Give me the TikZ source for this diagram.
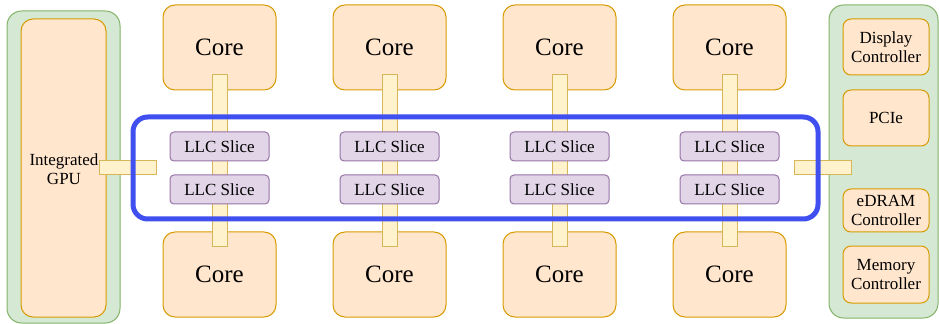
\documentclass[tikz,border=0pt]{standalone}
\usepackage{fontspec}
\setmainfont{Liberation Serif}
\usetikzlibrary{positioning}
\definecolor{orfill}{HTML}{FFE6CC}
\definecolor{ordraw}{HTML}{D79B00}
\definecolor{grfill}{HTML}{D5E8D4}
\definecolor{grdraw}{HTML}{82B366}
\definecolor{pufill}{HTML}{E1D5E7}
\definecolor{pudraw}{HTML}{9673A6}
\definecolor{yefill}{HTML}{FFF2CC}
\definecolor{yedraw}{HTML}{D6B656}
\definecolor{ringblue}{RGB}{64,80,240}

\begin{document}
\begin{tikzpicture}[x=0.75pt,y=-0.75pt,
  box/.style={draw=ordraw,fill=orfill,line width=0.75pt,inner sep=0pt},
  core/.style={box,rounded corners=9pt,minimum width=84.75pt,minimum height=63.75pt,font=\fontsize{18.75}{20}\selectfont},
  ctrl/.style={box,rounded corners=6pt,minimum width=64.5pt,align=center,font=\fontsize{12.75}{14.5}\selectfont},
  slice/.style={draw=pudraw,fill=pufill,line width=0.75pt,rounded corners=3pt,inner sep=0pt,minimum width=74.25pt,minimum height=21.75pt,font=\fontsize{12.75}{14}\selectfont},
  bar/.style={draw=yedraw,fill=yefill,line width=0.75pt,inner sep=0pt},
  panel/.style={draw=grdraw,fill=grfill,line width=0.75pt,rounded corners=11pt,inner sep=0pt},
  ring/.style={draw=ringblue,line width=3.75pt,rounded corners=11pt,inner sep=0pt}]
\useasboundingbox (0,0) rectangle (939,324);

% side panels
\node[panel,minimum width=84.75pt,minimum height=234pt] (gpupanel) at (63.5,167) {};
\node[box,rounded corners=9pt,minimum width=63.75pt,minimum height=223.5pt] (gpu) at (63.5,168) {};
\node[align=center,font=\fontsize{12.75}{14.5}\selectfont] (gputext) at (64,169) {Integrated\\GPU};
\node[panel,minimum width=81.75pt,minimum height=234.75pt] (iopanel) at (883.5,161.5) {};
\node[ctrl,minimum height=42pt] (disp) at (886,47) {Display\\Controller};
\node[ctrl,minimum height=42pt] (pcie) at (886,118) {PCIe};
\node[ctrl,minimum height=32.25pt] (edram) at (886,210.5) {eDRAM\\Controller};
\node[ctrl,minimum height=42.75pt] (memctrl) at (886,274.5) {Memory\\Controller};

% cores and their stops
\foreach \i/\x in {1/219.5,2/389.5,3/559.5,4/729.5} {
  \node[core] (coretop-\i) at (\x,47.5) {Core};
  \node[core] (corebot-\i) at (\x,274.5) {Core};
  \node[bar,minimum width=11.25pt,minimum height=128.25pt] (stop-\i) at (\x,160.5) {};
}
\node[bar,minimum width=42.75pt,minimum height=10.5pt] (gpustop) at (127.5,168) {};
\node[bar,minimum width=42.75pt,minimum height=10.5pt] (iostop) at (822.5,168) {};

% ring bus
\node[ring,minimum width=513.75pt,minimum height=76.5pt] (ringbus) at (475.5,168) {};

\foreach \i/\x in {1/219.5,2/389.5,3/559.5,4/729.5} {
  \node[slice] (slicetop-\i) at (\x,146.5) {LLC Slice};
  \node[slice] (slicebot-\i) at (\x,189.5) {LLC Slice};
}
\end{tikzpicture}
\end{document}
